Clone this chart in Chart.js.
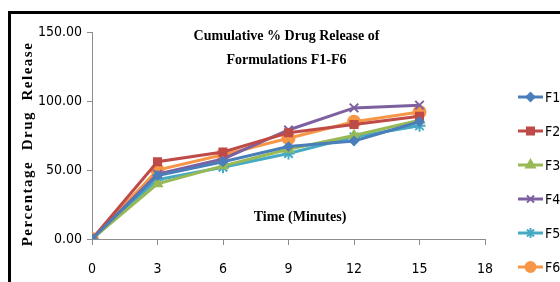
<!DOCTYPE html>
<html>
<head>
<meta charset="utf-8">
<script src="https://cdn.jsdelivr.net/npm/chart.js@4.4.0/dist/chart.umd.min.js"></script>
<style>
    html, body { margin: 0; padding: 0; background: #fff; }
    #wrap { width: 560px; height: 282px; position: relative; }
</style>
</head>
<body>
<div id="wrap"><canvas id="releaseChart"></canvas></div>
<script>
// Cumulative % drug release, formulations F1-F6
const timePoints = [0, 3, 6, 9, 12, 15];
const f1 = [0, 46, 56, 67, 71, 85];
const f2 = [0, 56, 63, 77, 83, 89];
const f3 = [0, 40, 53, 65, 75, 86];
const f4 = [0, 47, 58, 79, 95, 97];
const f5 = [0, 43, 52, 62, 74, 82];
const f6 = [0, 50, 61, 73, 85, 92];
const seriesNames = ['F1', 'F2', 'F3', 'F4', 'F5', 'F6'];
const xTicks = [0, 3, 6, 9, 12, 15, 18];
const yTicks = [0, 50, 100, 150];

const allSeries = [f1, f2, f3, f4, f5, f6];
const colors = ['#4a7ebb', '#be4b48', '#98b954', '#7d60a0', '#46aac5', '#f79646'];
const markers = ['rectRot', 'rect', 'triangle', 'crossRot', 'star', 'circle'];
const markerSizes = [4, 5, 5, 6, 6, 6];

const narrow = "'Liberation Sans Narrow', 'DejaVu Sans Condensed', Arial, sans-serif";
const tickFont = { family: narrow, size: 14 };
const serif = "'Liberation Serif', 'Times New Roman', serif";

const datasets = allSeries.map(function(values, i) {
    return {
        label: seriesNames[i],
        data: values.map((v, j) => ({ x: timePoints[j], y: v })),
        borderColor: colors[i],
        backgroundColor: colors[i],
        borderWidth: 3,
        pointStyle: markers[i],
        pointRadius: markerSizes[i],
        pointBorderWidth: 2,
        pointBorderColor: colors[i],
        pointBackgroundColor: colors[i],
        tension: 0
    };
});

// frame, titles and the line+marker legend
const decorations = {
    id: 'decorations',
    beforeDraw(chart) {
        const ctx = chart.ctx;
        ctx.save();
        ctx.fillStyle = '#fff';
        ctx.fillRect(0, 0, chart.width, chart.height);
        ctx.strokeStyle = '#000';
        ctx.lineWidth = 3;
        ctx.beginPath();
        ctx.moveTo(9.5, chart.height);
        ctx.lineTo(9.5, 12.5);
        ctx.lineTo(chart.width, 12.5);
        ctx.stroke();
        ctx.restore();
    },
    afterDraw(chart) {
        const ctx = chart.ctx;
        const area = chart.chartArea;
        ctx.save();
        ctx.fillStyle = '#000';
        ctx.textAlign = 'center';
        ctx.textBaseline = 'middle';

        // chart title
        ctx.font = 'bold 14px ' + serif;
        const cx = (area.left + area.right) / 2 - 2;
        ctx.fillText('Cumulative % Drug Release of', cx, area.top + 4);
        ctx.fillText('Formulations F1-F6', cx, area.top + 28);

        // x axis title sits inside the plot
        ctx.font = 'bold 14px ' + serif;
        ctx.fillText('Time (Minutes)', area.left + 208, area.bottom - 22);

        // y axis title
        ctx.save();
        ctx.translate(28, 144);
        ctx.rotate(-Math.PI / 2);
        ctx.font = 'bold 15px ' + serif;
        ctx.letterSpacing = '1.5px';
        ctx.fillText('Percentage  Drug  Release', 0, 0);
        ctx.restore();

        // legend
        ctx.textAlign = 'left';
        ctx.font = '14px ' + narrow;
        const lx = area.right + 33;
        chart.data.datasets.forEach(function(ds, i) {
            const ly = 97 + i * 34;
            ctx.strokeStyle = ds.borderColor;
            ctx.lineWidth = 3;
            ctx.beginPath();
            ctx.moveTo(lx, ly);
            ctx.lineTo(lx + 25, ly);
            ctx.stroke();
            ctx.fillStyle = ds.backgroundColor;
            ctx.lineWidth = 2;
            Chart.helpers.drawPoint(ctx, {
                pointStyle: ds.pointStyle,
                radius: Math.min(ds.pointRadius, 5),
                rotation: 0,
                borderWidth: 2
            }, lx + 12.5, ly);
            ctx.fillStyle = '#000';
            ctx.fillText(ds.label, lx + 27, ly + 1);
        });
        ctx.restore();
    }
};

new Chart(document.getElementById('releaseChart'), {
    type: 'line',
    data: { datasets: datasets },
    options: {
        responsive: true,
        maintainAspectRatio: false,
        animation: false,
        layout: { padding: { top: 32, right: 75, bottom: 0, left: 0 } },
        plugins: {
            legend: { display: false },
            title: { display: false },
            tooltip: { enabled: false }
        },
        scales: {
            x: {
                type: 'linear',
                min: xTicks[0],
                max: xTicks[xTicks.length - 1],
                afterBuildTicks: function(scale) {
                    scale.ticks = xTicks.map(v => ({ value: v }));
                },
                afterFit: function(scale) { scale.height = 43; },
                ticks: { color: '#000', font: tickFont, padding: 16 },
                grid: { drawOnChartArea: false, color: '#8c8c8c', tickLength: 6 },
                border: { color: '#8c8c8c', width: 1 }
            },
            y: {
                min: yTicks[0],
                max: yTicks[yTicks.length - 1],
                afterBuildTicks: function(scale) {
                    scale.ticks = yTicks.map(v => ({ value: v }));
                },
                afterFit: function(scale) { scale.width = 92; },
                ticks: {
                    color: '#000',
                    font: tickFont,
                    padding: 5,
                    callback: v => v.toFixed(2)
                },
                grid: { drawOnChartArea: false, color: '#8c8c8c', tickLength: 5 },
                border: { color: '#8c8c8c', width: 1 }
            }
        }
    },
    plugins: [decorations]
});
</script>
</body>
</html>
